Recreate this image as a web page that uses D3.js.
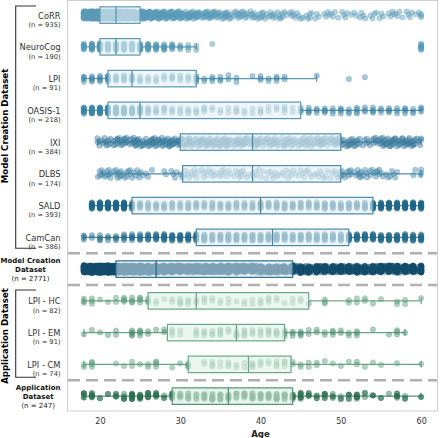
<!DOCTYPE html>
<html><head><meta charset="utf-8">
<script src="https://cdn.jsdelivr.net/npm/d3@7"></script>
<style>body{margin:0;background:#fff}svg{display:block}text{font-family:"DejaVu Sans",sans-serif}</style>
</head><body><svg id="c" width="440" height="438"></svg>
<script>
// ---------- data ----------
const ageBins = [18,19,20,21,22,23,24,25,26,27,28,29,30,31,32,33,34,35,36,37,38,39,40,41,42,43,44,45,46,47,48,49,50,51,52,53,54,55,56,57,58,59,60];
const corrCounts = [40,80,110,110,100,85,70,50,30,25,22,20,18,15,14,12,12,10,10,8,8,7,7,6,6,5,5,4,5,3,3,4,3,3,3,3,4,3,3,4,3,3,4];
const neuroCounts = [8,14,20,22,22,20,18,14,10,8,7,6,4,3,2,0,1,0,0,0,0,0,0,0,0,0,0,0,0,0,0,0,0,0,0,0,0,0,0,0,0,0,8];
const lpiCounts = [4,5,5,7,5,5,6,4,3,3,3,4,3,3,5,2,3,3,2,2,0,1,3,2,3,2,0,0,0,1,0,0,0,1,0,1,0,0,0,0,0,0,0];
const oasisCounts = [10,14,16,18,16,14,11,9,5,4,4,3,3,3,3,3,2,2,2,3,2,2,3,2,2,3,2,3,4,3,4,3,4,3,4,3,4,3,4,3,4,3,3];
const ixiCounts = [0,0,6,8,9,10,10,10,10,11,11,11,11,11,10,11,11,11,10,10,10,9,9,9,9,9,8,8,9,9,9,9,9,9,8,5,6,10,11,11,11,11,4];
const dlbsCounts = [0,0,6,7,7,6,6,5,3,0,2,3,3,5,5,5,5,5,4,5,5,4,4,4,4,4,4,4,4,4,4,4,6,6,6,6,6,5,4,3,0,2,3];
const saldCounts = [0,14,20,22,22,20,8,7,6,6,6,6,5,6,6,5,6,6,6,6,6,6,7,7,7,7,7,7,7,7,7,7,7,7,7,7,13,13,14,14,14,15,15];
const camcanCounts = [3,2,4,3,4,5,6,6,7,8,9,9,10,10,10,11,10,10,11,10,10,11,10,10,11,10,10,11,10,10,11,10,10,11,10,10,11,10,10,11,10,10,11];
const lpiHcCounts = [3,3,1,1,2,4,4,4,3,2,1,2,4,3,2,3,2,2,2,1,2,2,3,3,2,1,2,2,1,0,3,0,0,2,2,2,1,1,0,2,2,0,1];
const lpiEmCounts = [1,1,1,1,2,0,5,4,2,1,2,3,2,0,3,3,3,4,2,3,4,3,3,4,4,3,3,4,2,2,2,3,2,2,3,0,1,0,1,3,1,0,0];
const lpiCmCounts = [2,4,0,0,1,1,2,1,2,4,0,1,1,4,0,2,4,2,3,2,2,4,3,2,4,4,2,2,2,2,1,1,1,1,2,1,1,1,0,1,0,0,1];

const rowNames = ["CoRR","NeuroCog","LPI","OASIS-1","IXI","DLBS","SALD","CamCan","Model Creation\nDataset","LPI - HC","LPI - EM","LPI - CM","Application\nDataset"];
const rowN = [935,190,91,218,384,174,393,386,2771,82,91,74,247];
const q1 = [20,20,21,21,30,30.3,24,32,22,26,28.4,31,29];
const medians = [22,22,24,25,39,39,40,41.5,27,32,37,38.5,36];
const q3 = [25,25,32,45,50,50,54,51,44,46,43,43.8,44];
const whiskLo = [18,18,18,18,19.7,20.3,19,18,18,18,18,18,18];
const whiskHi = [32,32,47,60,60,60,60,60,60,60,58,60,60];
const xTicks = [20,30,40,50,60];
const groupNames = ["Model Creation Dataset","Application Dataset"];

// ---------- style ----------
const pointColors = ["#5a9bb8","#5497b5","#3f86a8","#3a82a3","#3a7d9e","#4588a8","#1e6689","#236a8b","#134d6c","#5a9c7a","#4b9170","#5d9d7d","#2a6e4f"];
const boxStroke = ["#5b97b3","#5b97b3","#5b97b3","#5b97b3","#4f8dab","#4f8dab","#4a88a6","#4a88a6","#2d6d8f","#6aa886","#6aa886","#6aa886","#4f9472"];
const boxFill = ["#e3f1f6","#e3f1f6","#e3f1f6","#e3f1f6","#e3f1f6","#e3f1f6","#e3f1f6","#e3f1f6","#d6eaf3","#e0f2e8","#e0f2e8","#e0f2e8","#d6ede0"];
const boxFillOpacity = [0.62,0.62,0.62,0.62,0.62,0.62,0.62,0.62,0.55,0.62,0.62,0.62,0.62];
const continuousRows = [true,false,false,false,true,true,false,false];
const jitterAmp = [3.8,3.4,3.4,3.4,4.4,4.4,3.4,3.4,3.6,3.4,3.4,3.4,3.4];

const svg = d3.select("#c");
const L = 67, R = 438, T = -0.8, B = 412;
const x = d3.scaleLinear().domain([15.9, 62.1]).range([L, R]);
const y = d3.scaleBand().domain(d3.range(rowNames.length)).range([T, B]);
const cy = i => y(i) + y.bandwidth() / 2;

// build point sets
const countSets = [corrCounts,neuroCounts,lpiCounts,oasisCounts,ixiCounts,dlbsCounts,saldCounts,camcanCounts];
function makePts(counts, cont, seed) {
  const pts = [];
  ageBins.forEach((a, i) => {
    for (let k = 0; k < counts[i]; k++) {
      let age = a;
      if (cont) age = Math.max(18, Math.min(60, a + (((k * 0.7548776662 + seed * 0.29 + i * 0.13) % 1) - 0.5) * 0.95));
      pts.push({age, k, i});
    }
  });
  return pts;
}
const rowPts = [];
countSets.forEach((c, r) => rowPts[r] = makePts(c, continuousRows[r], r));
rowPts[8] = [].concat(...rowPts.slice(0, 8));
rowPts[9] = makePts(lpiHcCounts, false, 9);
rowPts[10] = makePts(lpiEmCounts, false, 10);
rowPts[11] = makePts(lpiCmCounts, false, 11);
rowPts[12] = [].concat(rowPts[9], rowPts[10], rowPts[11]);

function jit(p, r) { return (((p.k * 0.618034 + p.i * 0.37 + r * 0.173) % 1) - 0.5) * 2 * jitterAmp[r]; }

// frame
svg.append("rect").attr("x", L + 0.5).attr("y", 0.5).attr("width", R - L - 1).attr("height", 410.5)
  .attr("fill", "none").attr("stroke", "#cfcfcf").attr("stroke-width", 1);

// dashed separators
[8, 9, 12].forEach(i => {
  svg.append("line").attr("x1", L + 1).attr("x2", R - 1).attr("y1", y(i)).attr("y2", y(i))
    .attr("stroke", "#b0b0b0").attr("stroke-width", 2.3).attr("stroke-dasharray", "12,6");
});

const bh = 16.5;
rowNames.forEach((name, r) => {
  const g = svg.append("g");
  const c = cy(r);
  // whiskers
  g.append("line").attr("x1", x(whiskLo[r])).attr("x2", x(q1[r])).attr("y1", c).attr("y2", c).attr("stroke", boxStroke[r]).attr("stroke-width", 1.1);
  g.append("line").attr("x1", x(q3[r])).attr("x2", x(whiskHi[r])).attr("y1", c).attr("y2", c).attr("stroke", boxStroke[r]).attr("stroke-width", 1.1);
  [whiskLo[r], whiskHi[r]].forEach(v => g.append("line").attr("x1", x(v)).attr("x2", x(v)).attr("y1", c - 3.5).attr("y2", c + 3.5).attr("stroke", boxStroke[r]).attr("stroke-width", 1.1));
  // points
  g.selectAll("circle").data(rowPts[r]).join("circle")
    .attr("cx", d => x(d.age)).attr("cy", d => c + jit(d, r))
    .attr("r", 2.7).attr("fill", pointColors[r]).attr("fill-opacity", 0.45)
    .attr("stroke", pointColors[r]).attr("stroke-opacity", 0.5).attr("stroke-width", 0.5);
  // box
  g.append("rect").attr("x", x(q1[r])).attr("y", c - bh / 2).attr("width", x(q3[r]) - x(q1[r])).attr("height", bh)
    .attr("fill", boxFill[r]).attr("fill-opacity", boxFillOpacity[r]).attr("stroke", boxStroke[r]).attr("stroke-width", 1.2);
  g.append("line").attr("x1", x(medians[r])).attr("x2", x(medians[r])).attr("y1", c - bh / 2).attr("y2", c + bh / 2)
    .attr("stroke", boxStroke[r]).attr("stroke-width", 1.3);

  // labels
  if (name.includes("\n")) {
    const lines = name.split("\n");
    const t = svg.append("g");
    const ts = [];
    ts.push(t.append("text").attr("y", c - 6.3).attr("font-size", 7).attr("font-weight", "bold").attr("fill", "#111").text(lines[0]));
    ts.push(t.append("text").attr("y", c + 2.6).attr("font-size", 7).attr("font-weight", "bold").attr("fill", "#111").text(lines[1]));
    ts.push(t.append("text").attr("y", c + 12.2).attr("font-size", 7).attr("fill", "#222").text(`(n = ${rowN[r]})`));
    const w = d3.max(ts, s => s.node().getComputedTextLength());
    ts.forEach(s => s.attr("x", 60.5 - w / 2).attr("text-anchor", "middle"));
  } else {
    svg.append("text").attr("x", 60.5).attr("y", c + 3.6).attr("text-anchor", "end").attr("font-size", 8.3).attr("fill", "#333").text(name);
    svg.append("text").attr("x", 60.5).attr("y", c + 11.8).attr("text-anchor", "end").attr("font-size", 6.7).attr("fill", "#333").text(`(n = ${rowN[r]})`);
  }
});

// group brackets
const brackets = [[6, 248.3, 126], [290, 377.3, 336]];
brackets.forEach(([a, b, m], gi) => {
  svg.append("path").attr("d", `M36,${a}H15.7V${b}H36`).attr("fill", "none").attr("stroke", "#333").attr("stroke-width", 1.1);
  svg.append("text").attr("transform", `translate(8,${m}) rotate(-90)`).attr("text-anchor", "middle")
    .attr("font-size", 8.6).attr("font-weight", "bold").attr("fill", "#000").text(groupNames[gi]);
});

// x axis
const ax = svg.append("g").attr("transform", `translate(0,411)`)
  .call(d3.axisBottom(x).tickValues(xTicks).tickSize(0).tickPadding(7).tickFormat(d3.format("d")));
ax.select(".domain").remove();
ax.selectAll("text").attr("font-size", 8).attr("fill", "#333").attr("font-family", "DejaVu Sans");
svg.append("text").attr("x", x(40)).attr("y", 436.5).attr("text-anchor", "middle").attr("font-size", 8.6)
  .attr("font-weight", "bold").attr("fill", "#222").text("Age");
</script></body></html>
